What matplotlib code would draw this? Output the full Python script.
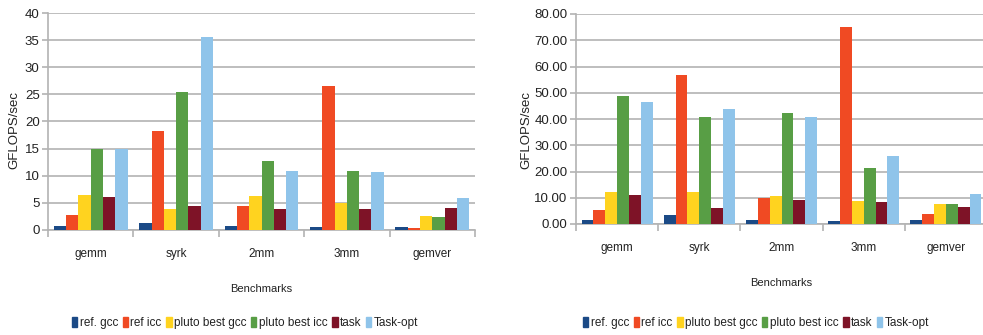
import matplotlib.pyplot as plt
import numpy as np
from matplotlib.patches import Patch
from matplotlib.ticker import FormatStrFormatter

benchmarks = ['gemm', 'syrk', '2mm', '3mm', 'gemver']
series = ['ref. gcc', 'ref icc', 'pluto best gcc', 'pluto best icc', 'task', 'Task-opt']
colors = ['#1b4a86', '#f04a23', '#ffd31f', '#589e45', '#7e1327', '#8fc4ea']

# left chart, GFLOPS/sec per benchmark
left_ref_gcc = [0.67, 1.2, 0.67, 0.5, 0.5]
left_ref_icc = [2.7, 18.2, 4.5, 26.6, 0.3]
left_pluto_gcc = [6.4, 3.8, 6.2, 5.0, 2.55]
left_pluto_icc = [14.85, 25.5, 12.8, 10.8, 2.4]
left_task = [6.0, 4.5, 3.8, 3.8, 4.0]
left_task_opt = [14.85, 35.5, 10.8, 10.6, 5.85]

# right chart
right_ref_gcc = [1.4, 3.5, 1.4, 1.0, 1.6]
right_ref_icc = [5.2, 56.7, 10.0, 74.9, 3.9]
right_pluto_gcc = [12.3, 12.3, 10.8, 8.9, 7.7]
right_pluto_icc = [48.7, 40.8, 42.3, 21.4, 7.7]
right_task = [11.1, 6.2, 9.2, 8.5, 6.6]
right_task_opt = [46.5, 43.8, 40.8, 25.9, 11.5]

left_data = [left_ref_gcc, left_ref_icc, left_pluto_gcc, left_pluto_icc, left_task, left_task_opt]
right_data = [right_ref_gcc, right_ref_icc, right_pluto_gcc, right_pluto_icc, right_task, right_task_opt]

plt.rcParams['font.family'] = ['Liberation Sans', 'DejaVu Sans']

W, H = 983, 335
fig = plt.figure(figsize=(W / 100, H / 100), dpi=100)


def draw_chart(rect, data, ymax, ystep, fmt, legend_x, ylabel_x):
    ax = fig.add_axes(rect)
    x = np.arange(len(benchmarks))
    bw = 0.144
    for i, vals in enumerate(data):
        ax.bar(x - 2.5 * bw + i * bw, vals, bw, color=colors[i], align='center', zorder=3)
    ax.set_xlim(-0.5, len(benchmarks) - 0.5)
    ax.set_ylim(0, ymax)
    ax.set_yticks(np.arange(0, ymax + 0.01, ystep))
    ax.yaxis.set_major_formatter(FormatStrFormatter(fmt))
    ax.grid(axis='y', color='#b3b3b3', linewidth=1.2, zorder=0)
    # category boundaries as major ticks, names on minor ticks
    ax.set_xticks(np.arange(len(benchmarks) + 1) - 0.5)
    ax.set_xticklabels([])
    ax.set_xticks(x, minor=True)
    ax.set_xticklabels(benchmarks, minor=True, fontsize=8.5, color='#222222')
    ax.tick_params(axis='x', which='minor', length=0, pad=13)
    ax.tick_params(axis='x', which='major', length=5, color='#b3b3b3', width=1.2)
    ax.tick_params(axis='y', length=4, color='#b3b3b3', width=1.2, labelsize=9.5,
                   pad=2, labelcolor='#222222')
    for s in ['top', 'right']:
        ax.spines[s].set_visible(False)
    for s in ['left', 'bottom']:
        ax.spines[s].set_color('#b3b3b3')
        ax.spines[s].set_linewidth(1.2)
    ax.set_xlabel('Benchmarks', fontsize=8, labelpad=17, color='#222222')
    fig.text(ylabel_x, 1 - 130 / H, 'GFLOPS/sec', rotation=90, fontsize=9.5,
             ha='center', va='center', color='#222222')
    handles = [Patch(color=c, label=s) for c, s in zip(colors, series)]
    fig.legend(handles=handles, loc='center', bbox_to_anchor=(legend_x, 1 - 323 / H), ncol=6,
               frameon=False, fontsize=8.5, handlelength=0.45, handleheight=0.9,
               handletextpad=0.2, columnspacing=0.4, labelcolor='#222222')
    return ax


draw_chart([48 / W, 1 - 230 / H, 427 / W, 217 / H], left_data, 40, 5, '%d', 245 / W, 14 / W)
draw_chart([576 / W, 1 - 224 / H, 411 / W, 210 / H], right_data, 80, 10, '%.2f', 756 / W, 526 / W)

fig.savefig('out.png', dpi=100)
